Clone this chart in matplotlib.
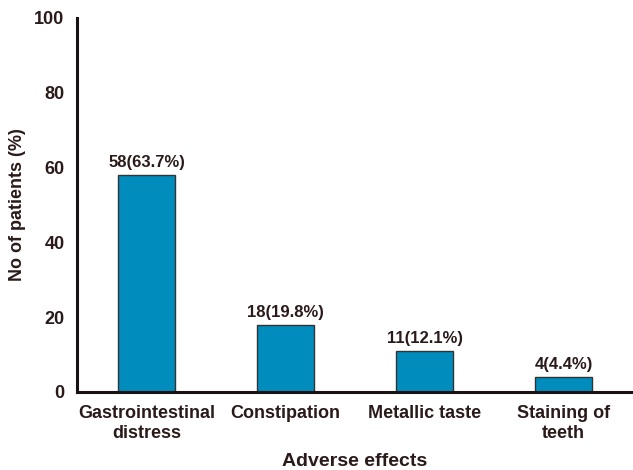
import matplotlib
matplotlib.use("Agg")
import matplotlib.pyplot as plt

categories = ["Gastrointestinal\ndistress", "Constipation", "Metallic taste", "Staining of\nteeth"]
counts = [58, 18, 11, 4]
labels = ["58(63.7%)", "18(19.8%)", "11(12.1%)", "4(4.4%)"]
yticks = [0, 20, 40, 60, 80, 100]

txt = "#2b1a1a"
plt.rcParams['font.family'] = ['Liberation Sans', 'DejaVu Sans']
plt.rcParams['font.weight'] = 'bold'

fig = plt.figure(figsize=(6.33, 4.70), dpi=100)
ax = fig.add_axes([77/633, 1-392/470, (633-77)/633, (392-18)/470])

x = range(len(categories))
bars = ax.bar(x, counts, width=0.41, color="#008cbd", edgecolor="#333333", linewidth=1.0, zorder=2)
for xi, v, lab in zip(x, counts, labels):
    ax.text(xi, v + 1.3, lab, ha="center", va="bottom", fontsize=12, fontweight="bold", color=txt)

ax.set_xlim(-0.5, 3.5)
ax.set_ylim(0, 100)
ax.set_yticks(yticks)
ax.set_xticks(list(x))
ax.set_xticklabels(categories, fontsize=13, fontweight="bold", color=txt, linespacing=1.3)
ax.tick_params(axis="y", length=0, pad=9, labelsize=13, labelcolor=txt)
ax.tick_params(axis="x", length=0, pad=9)
for t in ax.get_yticklabels():
    t.set_fontweight("bold")
ax.spines["top"].set_visible(False)
ax.spines["right"].set_visible(False)
ax.spines["left"].set_linewidth(2.2)
ax.spines["bottom"].set_linewidth(2.2)
ax.spines["left"].set_color("#1a1212")
ax.spines["bottom"].set_color("#1a1212")
ax.set_ylabel("No of patients (%)", fontsize=13, fontweight="bold", color=txt, va="center")
ax.yaxis.set_label_coords(-(77-18)/556, 0.5)
ax.set_xlabel("Adverse effects", fontsize=14, fontweight="bold", color=txt, va="center")
ax.xaxis.set_label_coords(0.5, -(461-392)/374)

fig.savefig("out.png", dpi=100)
